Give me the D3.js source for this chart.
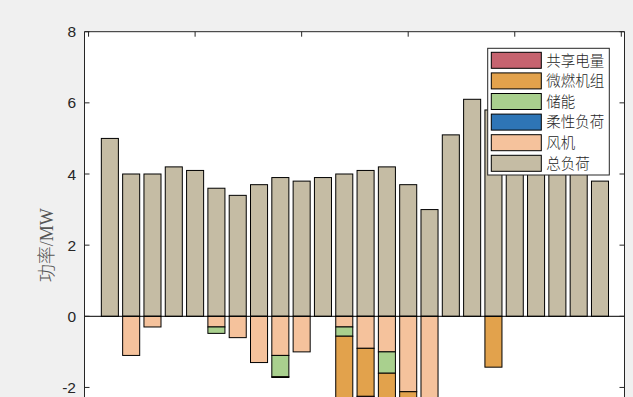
<!DOCTYPE html>
<html>
<head>
<meta charset="utf-8">
<script src="https://cdn.jsdelivr.net/npm/d3@7"></script>
<style>
  body { margin: 0; background: #f0f0f0; }
  svg { display: block; }
</style>
</head>
<body>
<svg id="chart" width="633" height="397"></svg>
<script>
// hours 1..24
const hours = d3.range(1, 25);

// total load (positive bars)
const totalLoad = [5.0, 4.0, 4.0, 4.2, 4.1, 3.6, 3.4, 3.7, 3.9, 3.8, 3.9, 4.0,
                   4.1, 4.2, 3.7, 3.0, 5.1, 6.1, 5.8, 5.6, 5.4, 5.2, 4.6, 3.8];
// supply side, drawn downward
const windPower = [0, 1.1, 0.3, 0, 0, 0.3, 0.6, 1.3, 1.1, 1.0, 0, 0.3,
                   0.9, 1.0, 2.12, 2.6, 0, 0, 0, 0, 0, 0, 0, 0];
const flexLoad = [0, 0, 0, 0, 0, 0, 0, 0, 0, 0, 0, 0,
                  0, 0, 0, 0, 0, 0, 0, 0, 0, 0, 0, 0];
const storage = [0, 0, 0, 0, 0, 0.18, 0, 0, 0.6, 0, 0, 0.26,
                 0, 0.6, 0, 0, 0, 0, 0, 0, 0, 0, 0, 0];
const microTurbine = [0, 0, 0, 0, 0, 0, 0, 0, 0.02, 0, 0, 2.0,
                      1.35, 1.1, 0.6, 0, 0, 0, 1.43, 0, 0, 0, 0, 0];
const sharedPower = [0, 0, 0, 0, 0, 0, 0, 0, 0, 0, 0, 0,
                     0.3, 0, 0, 0, 0, 0, 0, 0, 0, 0, 0, 0];

const legendNames = ['共享电量', '微燃机组', '储能', '柔性负荷', '风机', '总负荷'];
const yTicks = [-2, 0, 2, 4, 6, 8];
const xTicks = [0, 5, 10, 15, 20, 25];

const colors = {
    total: '#c5bca4',
    wind: '#f5c29c',
    flex: '#2e75b6',
    storage: '#a9d08e',
    micro: '#e2a24c',
    shared: '#c6636f'
};

const box = {left: 84.5, right: 624.5, top: 31.7, bottom: 458.6};

let svg = d3.select('#chart');

// table for the stack, supplies stored as negatives
let table = hours.map((h, i) => ({
    hour: h,
    total: totalLoad[i],
    wind: -windPower[i],
    flex: -flexLoad[i],
    storage: -storage[i],
    micro: -microTurbine[i],
    shared: -sharedPower[i]
}));

let keys = ['total', 'wind', 'flex', 'storage', 'micro', 'shared'];
let series = d3.stack()
    .keys(keys)
    .offset(d3.stackOffsetDiverging)(table);

let x = d3.scaleLinear().domain([-0.19, 25.15]).range([box.left, box.right]);
let y = d3.scaleLinear().domain([-4, 8]).range([box.bottom, box.top]);
let barW = (x(0.8) - x(0));

svg.append('rect')
    .attr('x', box.left).attr('y', box.top)
    .attr('width', box.right - box.left).attr('height', box.bottom - box.top)
    .attr('fill', '#fff');

svg.append('clipPath').attr('id', 'clip')
    .append('rect')
    .attr('x', box.left).attr('y', box.top)
    .attr('width', box.right - box.left).attr('height', box.bottom - box.top);

let plotG = svg.append('g').attr('clip-path', 'url(#clip)');

plotG.selectAll('g.series')
    .data(series)
    .join('g')
    .classed('series', true)
    .attr('fill', s => colors[s.key])
    .selectAll('rect')
    .data(s => s.filter(d => d[1] - d[0] !== 0))
    .join('rect')
    .attr('x', d => x(d.data.hour) - barW / 2)
    .attr('width', barW)
    .attr('y', d => y(Math.max(d[0], d[1])))
    .attr('height', d => Math.abs(y(d[0]) - y(d[1])))
    .attr('stroke', '#000')
    .attr('stroke-width', 1);

// baseline at zero
plotG.append('line')
    .attr('x1', box.left).attr('x2', box.right)
    .attr('y1', y(0)).attr('y2', y(0))
    .attr('stroke', '#000').attr('stroke-width', 1);

// axes box
let axisColor = '#262626';
let axG = svg.append('g').attr('fill', 'none').attr('stroke', axisColor);
axG.append('line').attr('x1', box.left).attr('x2', box.right).attr('y1', box.top).attr('y2', box.top);
axG.append('line').attr('x1', box.left).attr('x2', box.left).attr('y1', box.top).attr('y2', box.bottom);
axG.append('line').attr('x1', box.right).attr('x2', box.right).attr('y1', box.top).attr('y2', box.bottom);

let tickLen = 5;
axG.selectAll('line.ytick-l')
    .data(yTicks)
    .join('line')
    .attr('x1', box.left).attr('x2', box.left + tickLen)
    .attr('y1', d => y(d)).attr('y2', d => y(d));
axG.selectAll('line.ytick-r')
    .data(yTicks)
    .join('line')
    .attr('x1', box.right).attr('x2', box.right - tickLen)
    .attr('y1', d => y(d)).attr('y2', d => y(d));
axG.selectAll('line.xtick-t')
    .data(xTicks)
    .join('line')
    .attr('x1', d => x(d)).attr('x2', d => x(d))
    .attr('y1', box.top).attr('y2', box.top + tickLen);

svg.selectAll('text.ylab')
    .data(yTicks)
    .join('text')
    .attr('x', 76)
    .attr('y', d => y(d))
    .attr('dy', '0.36em')
    .attr('text-anchor', 'end')
    .attr('font-family', 'Liberation Sans, Arial, sans-serif')
    .attr('font-size', 15.5)
    .attr('fill', axisColor)
    .text(d => d);

// y axis title
let yTitle = svg.append('text')
    .attr('transform', `translate(53, ${y(2)}) rotate(-90)`)
    .attr('text-anchor', 'middle')
    .attr('font-size', 18)
    .attr('fill', '#555');
yTitle.append('tspan')
    .attr('font-family', 'Noto Sans CJK SC')
    .attr('font-weight', 300)
    .text('功率');
yTitle.append('tspan')
    .attr('font-family', 'Liberation Serif, serif')
    .text('/MW');

// legend
let legendColors = [colors.shared, colors.micro, colors.storage, colors.flex, colors.wind, colors.total];
let legG = svg.append('g');
legG.append('rect')
    .attr('x', 487.7).attr('y', 48.3)
    .attr('width', 121.6).attr('height', 126.7)
    .attr('fill', '#fff').attr('stroke', axisColor).attr('stroke-width', 1);

let items = legG.selectAll('g.item')
    .data(legendNames)
    .join('g')
    .classed('item', true)
    .attr('transform', (d, i) => `translate(491.3, ${52.3 + i * 20.6})`);

items.append('rect')
    .attr('width', 50).attr('height', 16)
    .attr('fill', (d, i) => legendColors[i])
    .attr('stroke', '#000').attr('stroke-width', 1);

items.append('text')
    .attr('x', 55)
    .attr('y', 8)
    .attr('dy', '0.36em')
    .attr('font-family', 'Noto Sans CJK SC')
    .attr('font-weight', 300)
    .attr('font-size', 14.5)
    .attr('fill', axisColor)
    .text(d => d);
</script>
</body>
</html>
